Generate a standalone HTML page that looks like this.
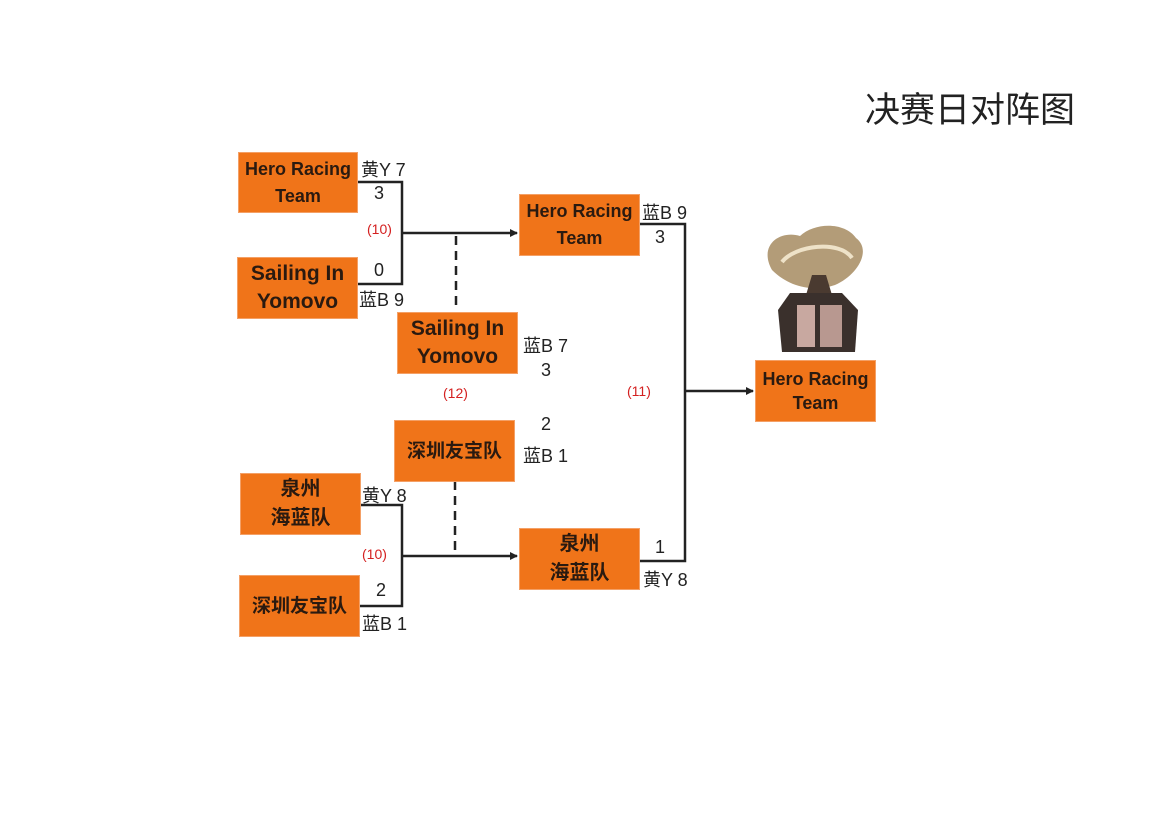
<!DOCTYPE html>
<html><head><meta charset="utf-8"><style>
body{margin:0;width:1169px;height:827px;background:#fff;position:relative;overflow:hidden;font-family:"Liberation Sans","Noto Sans CJK SC",sans-serif}
.b{position:absolute;background:#f07419;border:1px solid #f4a066;box-sizing:border-box;display:flex;align-items:center;justify-content:center;text-align:center;font-weight:bold;color:#2a1a10;line-height:27px}
.t{position:absolute;font-size:18px;color:#222;white-space:nowrap}
.r{position:absolute;font-size:14px;color:#d42020}
</style></head><body>
<div class="t" style="left:865px;top:82px;font-size:35px;color:#222">决赛日对阵图</div>
<svg width="1169" height="827" style="position:absolute;left:0;top:0">
<defs><marker id="a" markerWidth="8" markerHeight="8" refX="7" refY="4" orient="auto" markerUnits="userSpaceOnUse"><path d="M0,0 L8,4 L0,8z" fill="#222"/></marker></defs>
<g stroke="#222" stroke-width="2.5" fill="none">
<polyline points="357,182 402,182 402,284 357,284"/>
<line x1="402" y1="233" x2="517" y2="233" marker-end="url(#a)"/>
<line x1="456" y1="236" x2="456" y2="311" stroke-dasharray="9,6"/>
<polyline points="360,505 402,505 402,606 359,606"/>
<line x1="402" y1="556" x2="517" y2="556" marker-end="url(#a)"/>
<line x1="455" y1="481" x2="455" y2="554" stroke-dasharray="9,6"/>
<polyline points="639,224 685,224 685,561 639,561"/>
<line x1="685" y1="391" x2="753" y2="391" marker-end="url(#a)"/>
</g>
<g>
<path d="M772,270 C758,245 780,230 800,236 C815,222 845,222 856,238 C872,250 858,275 835,285 C815,292 790,288 772,270z" fill="#b39c78"/>
<path d="M782,262 C795,245 840,240 852,258" stroke="#eee2c8" stroke-width="4" fill="none"/>
<path d="M812,275 L826,275 L832,295 L806,295z" fill="#4a3a30"/>
<path d="M790,293 L842,293 L858,310 L855,352 L782,352 L778,310z" fill="#3a302c"/>
<rect x="797" y="305" width="18" height="42" fill="#c8a8a0"/>
<rect x="820" y="305" width="22" height="42" fill="#b89890"/>
</g>
</svg>
<div class="b" style="left:238px;top:152px;width:120px;height:61px;font-size:18px">Hero Racing<br>Team</div>
<div class="b" style="left:237px;top:257px;width:121px;height:62px;font-size:21px;line-height:28px">Sailing In<br>Yomovo</div>
<div class="b" style="left:519px;top:194px;width:121px;height:62px;font-size:18px">Hero Racing<br>Team</div>
<div class="b" style="left:397px;top:312px;width:121px;height:62px;font-size:21px;line-height:28px">Sailing In<br>Yomovo</div>
<div class="b" style="left:394px;top:420px;width:121px;height:62px;font-size:19px">深圳友宝队</div>
<div class="b" style="left:240px;top:473px;width:121px;height:62px;font-size:20px;line-height:29px">泉州<br>海蓝队</div>
<div class="b" style="left:239px;top:575px;width:121px;height:62px;font-size:19px">深圳友宝队</div>
<div class="b" style="left:519px;top:528px;width:121px;height:62px;font-size:20px;line-height:29px">泉州<br>海蓝队</div>
<div class="b" style="left:755px;top:360px;width:121px;height:62px;font-size:18px;line-height:24px">Hero Racing<br>Team</div>
<div class="t" style="left:361px;top:156px">黄Y 7</div>
<div class="t" style="left:374px;top:183px">3</div>
<div class="t" style="left:374px;top:260px">0</div>
<div class="t" style="left:359px;top:286px">蓝B 9</div>
<div class="r" style="left:367px;top:221px">(10)</div>
<div class="t" style="left:642px;top:199px">蓝B 9</div>
<div class="t" style="left:655px;top:227px">3</div>
<div class="t" style="left:523px;top:332px">蓝B 7</div>
<div class="t" style="left:541px;top:360px">3</div>
<div class="r" style="left:443px;top:385px">(12)</div>
<div class="r" style="left:627px;top:383px">(11)</div>
<div class="t" style="left:541px;top:414px">2</div>
<div class="t" style="left:523px;top:442px">蓝B 1</div>
<div class="t" style="left:362px;top:482px">黄Y 8</div>
<div class="r" style="left:362px;top:546px">(10)</div>
<div class="t" style="left:376px;top:580px">2</div>
<div class="t" style="left:362px;top:610px">蓝B 1</div>
<div class="t" style="left:655px;top:537px">1</div>
<div class="t" style="left:643px;top:566px">黄Y 8</div>
</body></html>
